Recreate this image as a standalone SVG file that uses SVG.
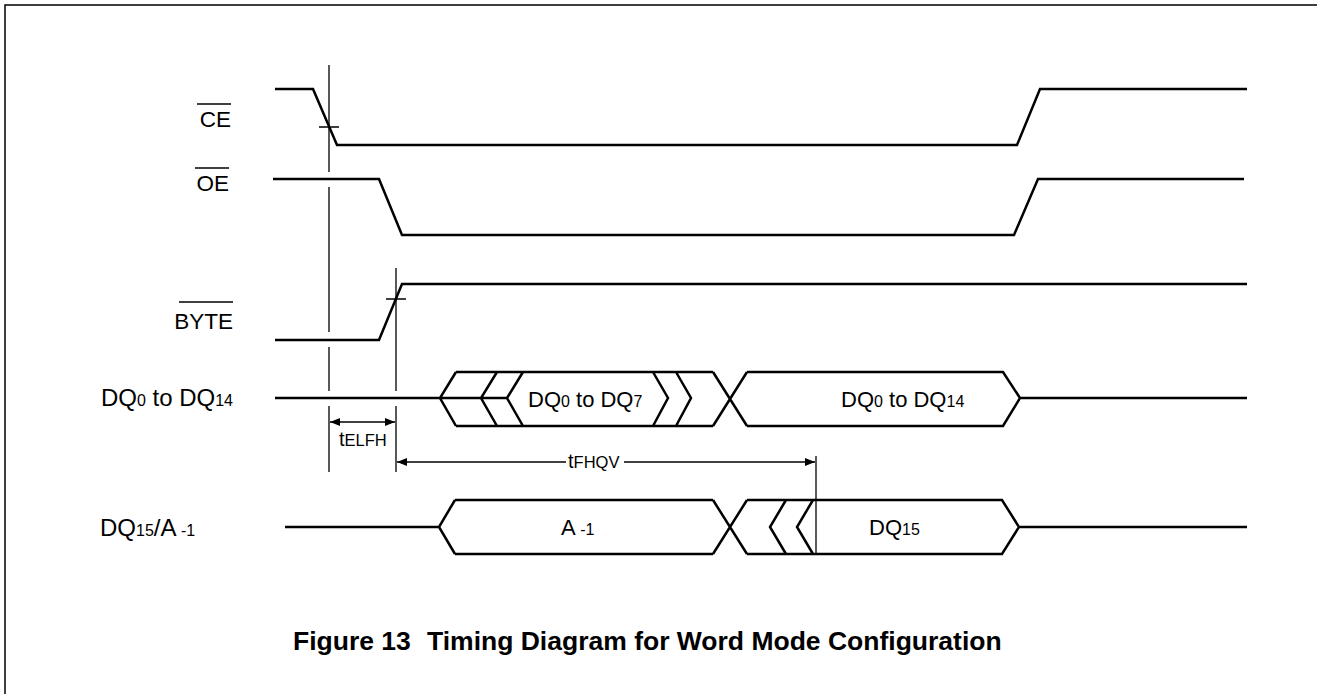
<svg xmlns="http://www.w3.org/2000/svg" width="1317" height="694" viewBox="0 0 1317 694">
<defs>
<marker id="ah" viewBox="0 0 10 8" refX="10" refY="4" markerWidth="10" markerHeight="8" markerUnits="userSpaceOnUse" orient="auto-start-reverse"><path d="M0,0 L10,4 L0,8 Z" fill="#000"/></marker>
</defs>
<style>
.sig{fill:none;stroke:#000;stroke-width:2.5;stroke-linejoin:miter}
.thin{fill:none;stroke:#000;stroke-width:1.3}
.frame{fill:none;stroke:#000;stroke-width:1.5}
.lbl{font-family:"Liberation Sans",Arial,sans-serif;font-size:22.5px;fill:#000}
.lbl2{font-family:"Liberation Sans",Arial,sans-serif;font-size:24px;fill:#000}
.box{font-family:"Liberation Sans",Arial,sans-serif;font-size:22px;fill:#000}
.sub{font-size:16px}
.tm{font-family:"Liberation Sans",Arial,sans-serif;font-size:20px;fill:#000}
.tsub{font-size:16.5px}
.cap{font-family:"Liberation Sans",Arial,sans-serif;font-size:26.5px;font-weight:bold;fill:#000}
</style>
<rect width="1317" height="694" fill="#fff"/>
<path class="frame" d="M5,694 L5,5 L1317,5"/>

<g id="sig-ce">
<text class="lbl" x="231" y="127" text-anchor="end">CE</text>
<line class="thin" x1="197" y1="104" x2="231" y2="104"/>
<path class="sig" d="M275,89 L313,89 L337,145 L1017,145 L1040,89 L1247,89"/>
</g>
<g id="sig-oe">
<text class="lbl" x="229" y="191" text-anchor="end">OE</text>
<line class="thin" x1="195" y1="168" x2="229" y2="168"/>
<path class="sig" d="M273,179 L379,179 L402,235 L1014,235 L1038,179 L1244,179"/>
</g>
<g id="sig-byte">
<text class="lbl" x="233" y="329" text-anchor="end">BYTE</text>
<line class="thin" x1="179" y1="302" x2="233" y2="302"/>
<path class="sig" d="M275,340 L379,340 L402,284 L1247,284"/>
</g>
<g id="sig-dq0-14">
<text class="lbl2" x="233" y="406" text-anchor="end">DQ<tspan class="sub">0</tspan> to DQ<tspan class="sub">14</tspan></text>
<path class="sig" d="M275,398 L507,398 M456,372 L440,398 L456,426 M497,372 L481,398 L497,426 M523,372 L507,398 L523,426 M456,372 L713,372 M456,426 L713,426 M653,372 L668,398 L653,426 M676,372 L691,398 L676,426 M713,372 L747,426 M713,426 L747,372 M747,372 L1003,372 L1020,398 L1003,426 L747,426 M1020,398 L1247,398"/>
<text class="box" x="528" y="407">DQ<tspan class="sub">0</tspan> to DQ<tspan class="sub">7</tspan></text>
<text class="box" x="841" y="407">DQ<tspan class="sub">0</tspan> to DQ<tspan class="sub">14</tspan></text>
</g>
<g id="sig-dq15">
<text class="lbl2" x="100" y="536">DQ<tspan class="sub">15</tspan>/A<tspan class="sub"> -1</tspan></text>
<path class="sig" d="M285,527 L439,527 M455,500 L439,527 L455,554 M455,500 L713,500 M455,554 L713,554 M713,500 L747,554 M713,554 L747,500 M747,500 L1002,500 L1019,527 L1002,554 L747,554 M786,500 L770,527 L786,554 M813,500 L797,527 L813,554 M1019,527 L1247,527"/>
<text class="box" x="561" y="535">A<tspan class="sub"> -1</tspan></text>
<text class="box" x="869" y="535">DQ<tspan class="sub">15</tspan></text>
</g>

<g id="connectors">
<path class="thin" d="M329,65 L329,172 M329,187 L329,332 M329,347 L329,391 M329,406 L329,472"/>
<path class="thin" d="M396,268 L396,391 M396,406 L396,472"/>
<path class="thin" d="M816,456 L816,555"/>
<path class="thin" d="M319,127 L339,127 M386,299 L406,299"/>
<line class="thin" x1="330" y1="422" x2="395" y2="422" marker-start="url(#ah)" marker-end="url(#ah)"/>
<line class="thin" x1="397" y1="462" x2="566" y2="462" marker-start="url(#ah)"/>
<line class="thin" x1="624" y1="462" x2="815" y2="462" marker-end="url(#ah)"/>
<text class="tm" x="339" y="446">t<tspan class="tsub">ELFH</tspan></text>
<text class="tm" x="568" y="468">t<tspan class="tsub">FHQV</tspan></text>
</g>

<text class="cap" y="650"><tspan x="293">Figure 13</tspan><tspan x="427">Timing Diagram for Word Mode Configuration</tspan></text>
</svg>
